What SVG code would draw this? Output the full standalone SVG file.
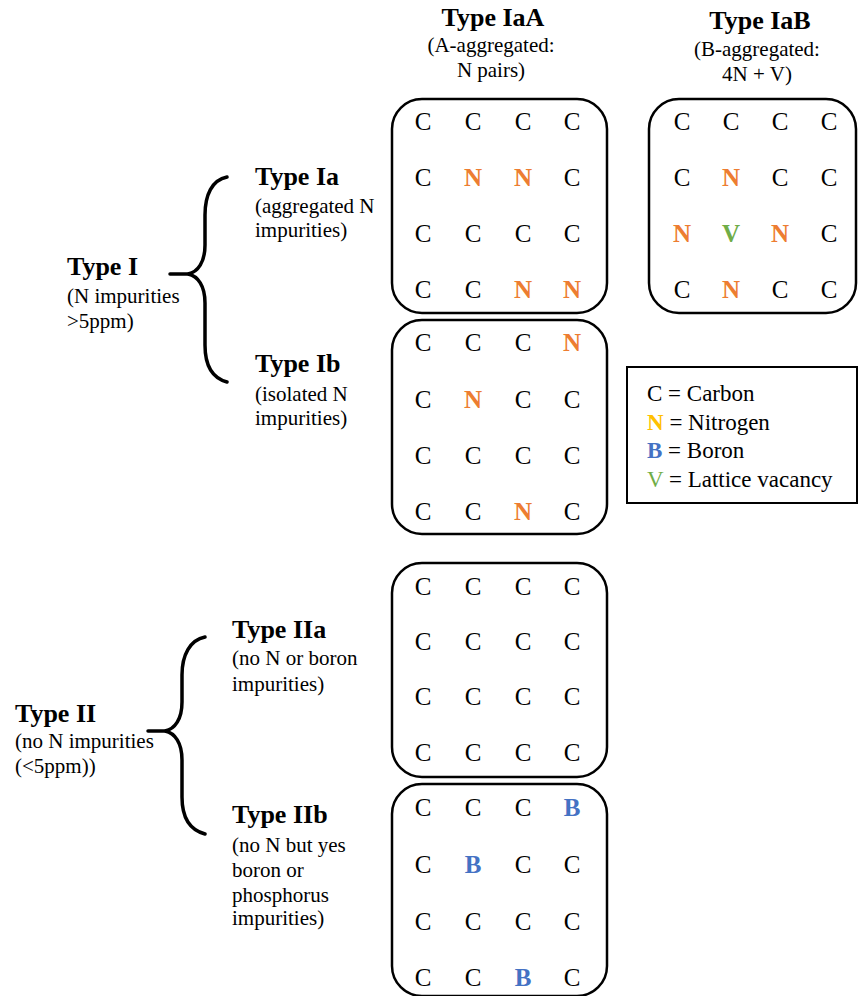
<svg xmlns="http://www.w3.org/2000/svg" width="858" height="996" viewBox="0 0 858 996" font-family="'Liberation Serif', Tinos, 'Times New Roman', Times, 'DejaVu Serif', serif">
<style>
text{font-family:'Liberation Serif',Tinos,'Times New Roman',Times,'DejaVu Serif',serif;fill:#000}
.h{font-size:26px;font-weight:bold}
.s{font-size:21px}
.g{font-size:25px;text-anchor:middle}
.n{fill:#ED7D31;font-weight:bold}
.b{fill:#4472C4;font-weight:bold}
.v{fill:#70AD47;font-weight:bold}
.lg{font-size:23px}
.box{fill:none;stroke:#000;stroke-width:2.5}
.br{fill:none;stroke:#000;stroke-width:3.5;stroke-linecap:round}
.c{text-anchor:middle}
</style>
<rect width="858" height="996" fill="#fff"/>

<g id="head-IaA">
<text class="h c" x="493" y="26">Type IaA</text>
<text class="s c" x="491" y="52">(A-aggregated:</text>
<text class="s c" x="491" y="77">N pairs)</text>
</g>
<g id="head-IaB">
<text class="h c" x="760" y="29">Type IaB</text>
<text class="s c" x="757" y="56">(B-aggregated:</text>
<text class="s c" x="757" y="81">4N + V)</text>
</g>

<g id="typeI">
<text class="h" x="67" y="275">Type I</text>
<text class="s" x="67" y="303">(N impurities</text>
<text class="s" x="67" y="328">&gt;5ppm)</text>
</g>
<g id="typeIa">
<text class="h" x="255" y="185">Type Ia</text>
<text class="s" x="255" y="213">(aggregated N</text>
<text class="s" x="255" y="237">impurities)</text>
</g>
<g id="typeIb">
<text class="h" x="255" y="372">Type Ib</text>
<text class="s" x="255" y="401">(isolated N</text>
<text class="s" x="255" y="425">impurities)</text>
</g>
<g id="typeII">
<text class="h" x="15" y="722">Type II</text>
<text class="s" x="15" y="748">(no N impurities</text>
<text class="s" x="15" y="773">(&lt;5ppm))</text>
</g>
<g id="typeIIa">
<text class="h" x="232" y="638">Type IIa</text>
<text class="s" x="232" y="665">(no N or boron</text>
<text class="s" x="232" y="691">impurities)</text>
</g>
<g id="typeIIb">
<text class="h" x="232" y="823">Type IIb</text>
<text class="s" x="232" y="852">(no N but yes</text>
<text class="s" x="232" y="877">boron or</text>
<text class="s" x="232" y="902">phosphorus</text>
<text class="s" x="232" y="925">impurities)</text>
</g>

<g id="connectors">
<path class="br" d="M227,177 C212,180 205,195 205,215 L205,245 C205,262 198,272 188,274 C198,276 205,286 205,303 L205,345 C205,365 212,378 227,382"/>
<path class="br" d="M170,274 H190"/>
<path class="br" d="M205,637 C190,640 182,655 182,675 L182,702 C182,719 175,729 165,731 C175,733 182,743 182,760 L182,797 C182,817 190,830 205,834"/>
<path class="br" d="M148,731 H167"/>
</g>

<g id="grid-IaA">
<rect class="box" x="392" y="99" width="215" height="214" rx="30"/>
<g class="g">
<text x="423" y="130">C</text><text x="473" y="130">C</text><text x="523" y="130">C</text><text x="572" y="130">C</text>
<text x="423" y="186">C</text><text x="473" y="186" class="n">N</text><text x="523" y="186" class="n">N</text><text x="572" y="186">C</text>
<text x="423" y="242">C</text><text x="473" y="242">C</text><text x="523" y="242">C</text><text x="572" y="242">C</text>
<text x="423" y="298">C</text><text x="473" y="298">C</text><text x="523" y="298" class="n">N</text><text x="572" y="298" class="n">N</text>
</g>
</g>

<g id="grid-IaB">
<rect class="box" x="649" y="99" width="207" height="214" rx="30"/>
<g class="g">
<text x="682" y="130">C</text><text x="731" y="130">C</text><text x="780" y="130">C</text><text x="829" y="130">C</text>
<text x="682" y="186">C</text><text x="731" y="186" class="n">N</text><text x="780" y="186">C</text><text x="829" y="186">C</text>
<text x="682" y="242" class="n">N</text><text x="731" y="242" class="v">V</text><text x="780" y="242" class="n">N</text><text x="829" y="242">C</text>
<text x="682" y="298">C</text><text x="731" y="298" class="n">N</text><text x="780" y="298">C</text><text x="829" y="298">C</text>
</g>
</g>

<g id="grid-Ib">
<rect class="box" x="392" y="320" width="215" height="214" rx="30"/>
<g class="g">
<text x="423" y="351">C</text><text x="473" y="351">C</text><text x="523" y="351">C</text><text x="572" y="351" class="n">N</text>
<text x="423" y="408">C</text><text x="473" y="408" class="n">N</text><text x="523" y="408">C</text><text x="572" y="408">C</text>
<text x="423" y="464">C</text><text x="473" y="464">C</text><text x="523" y="464">C</text><text x="572" y="464">C</text>
<text x="423" y="520">C</text><text x="473" y="520">C</text><text x="523" y="520" class="n">N</text><text x="572" y="520">C</text>
</g>
</g>

<g id="grid-IIa">
<rect class="box" x="392" y="563" width="215" height="214" rx="30"/>
<g class="g">
<text x="423" y="595">C</text><text x="473" y="595">C</text><text x="523" y="595">C</text><text x="572" y="595">C</text>
<text x="423" y="650">C</text><text x="473" y="650">C</text><text x="523" y="650">C</text><text x="572" y="650">C</text>
<text x="423" y="705">C</text><text x="473" y="705">C</text><text x="523" y="705">C</text><text x="572" y="705">C</text>
<text x="423" y="761">C</text><text x="473" y="761">C</text><text x="523" y="761">C</text><text x="572" y="761">C</text>
</g>
</g>

<g id="grid-IIb">
<rect class="box" x="392" y="784" width="215" height="212" rx="30"/>
<g class="g">
<text x="423" y="816">C</text><text x="473" y="816">C</text><text x="523" y="816">C</text><text x="572" y="816" class="b">B</text>
<text x="423" y="873">C</text><text x="473" y="873" class="b">B</text><text x="523" y="873">C</text><text x="572" y="873">C</text>
<text x="423" y="930">C</text><text x="473" y="930">C</text><text x="523" y="930">C</text><text x="572" y="930">C</text>
<text x="423" y="986">C</text><text x="473" y="986">C</text><text x="523" y="986" class="b">B</text><text x="572" y="986">C</text>
</g>
</g>

<g id="legend">
<rect x="627" y="367" width="230" height="136" fill="none" stroke="#000" stroke-width="2"/>
<text class="lg" x="647" y="401">C = Carbon</text>
<text class="lg" x="647" y="430"><tspan fill="#FFC000" font-weight="bold">N</tspan> = Nitrogen</text>
<text class="lg" x="647" y="458"><tspan fill="#4472C4" font-weight="bold">B</tspan> = Boron</text>
<text class="lg" x="647" y="487"><tspan fill="#70AD47">V</tspan> = Lattice vacancy</text>
</g>
</svg>
